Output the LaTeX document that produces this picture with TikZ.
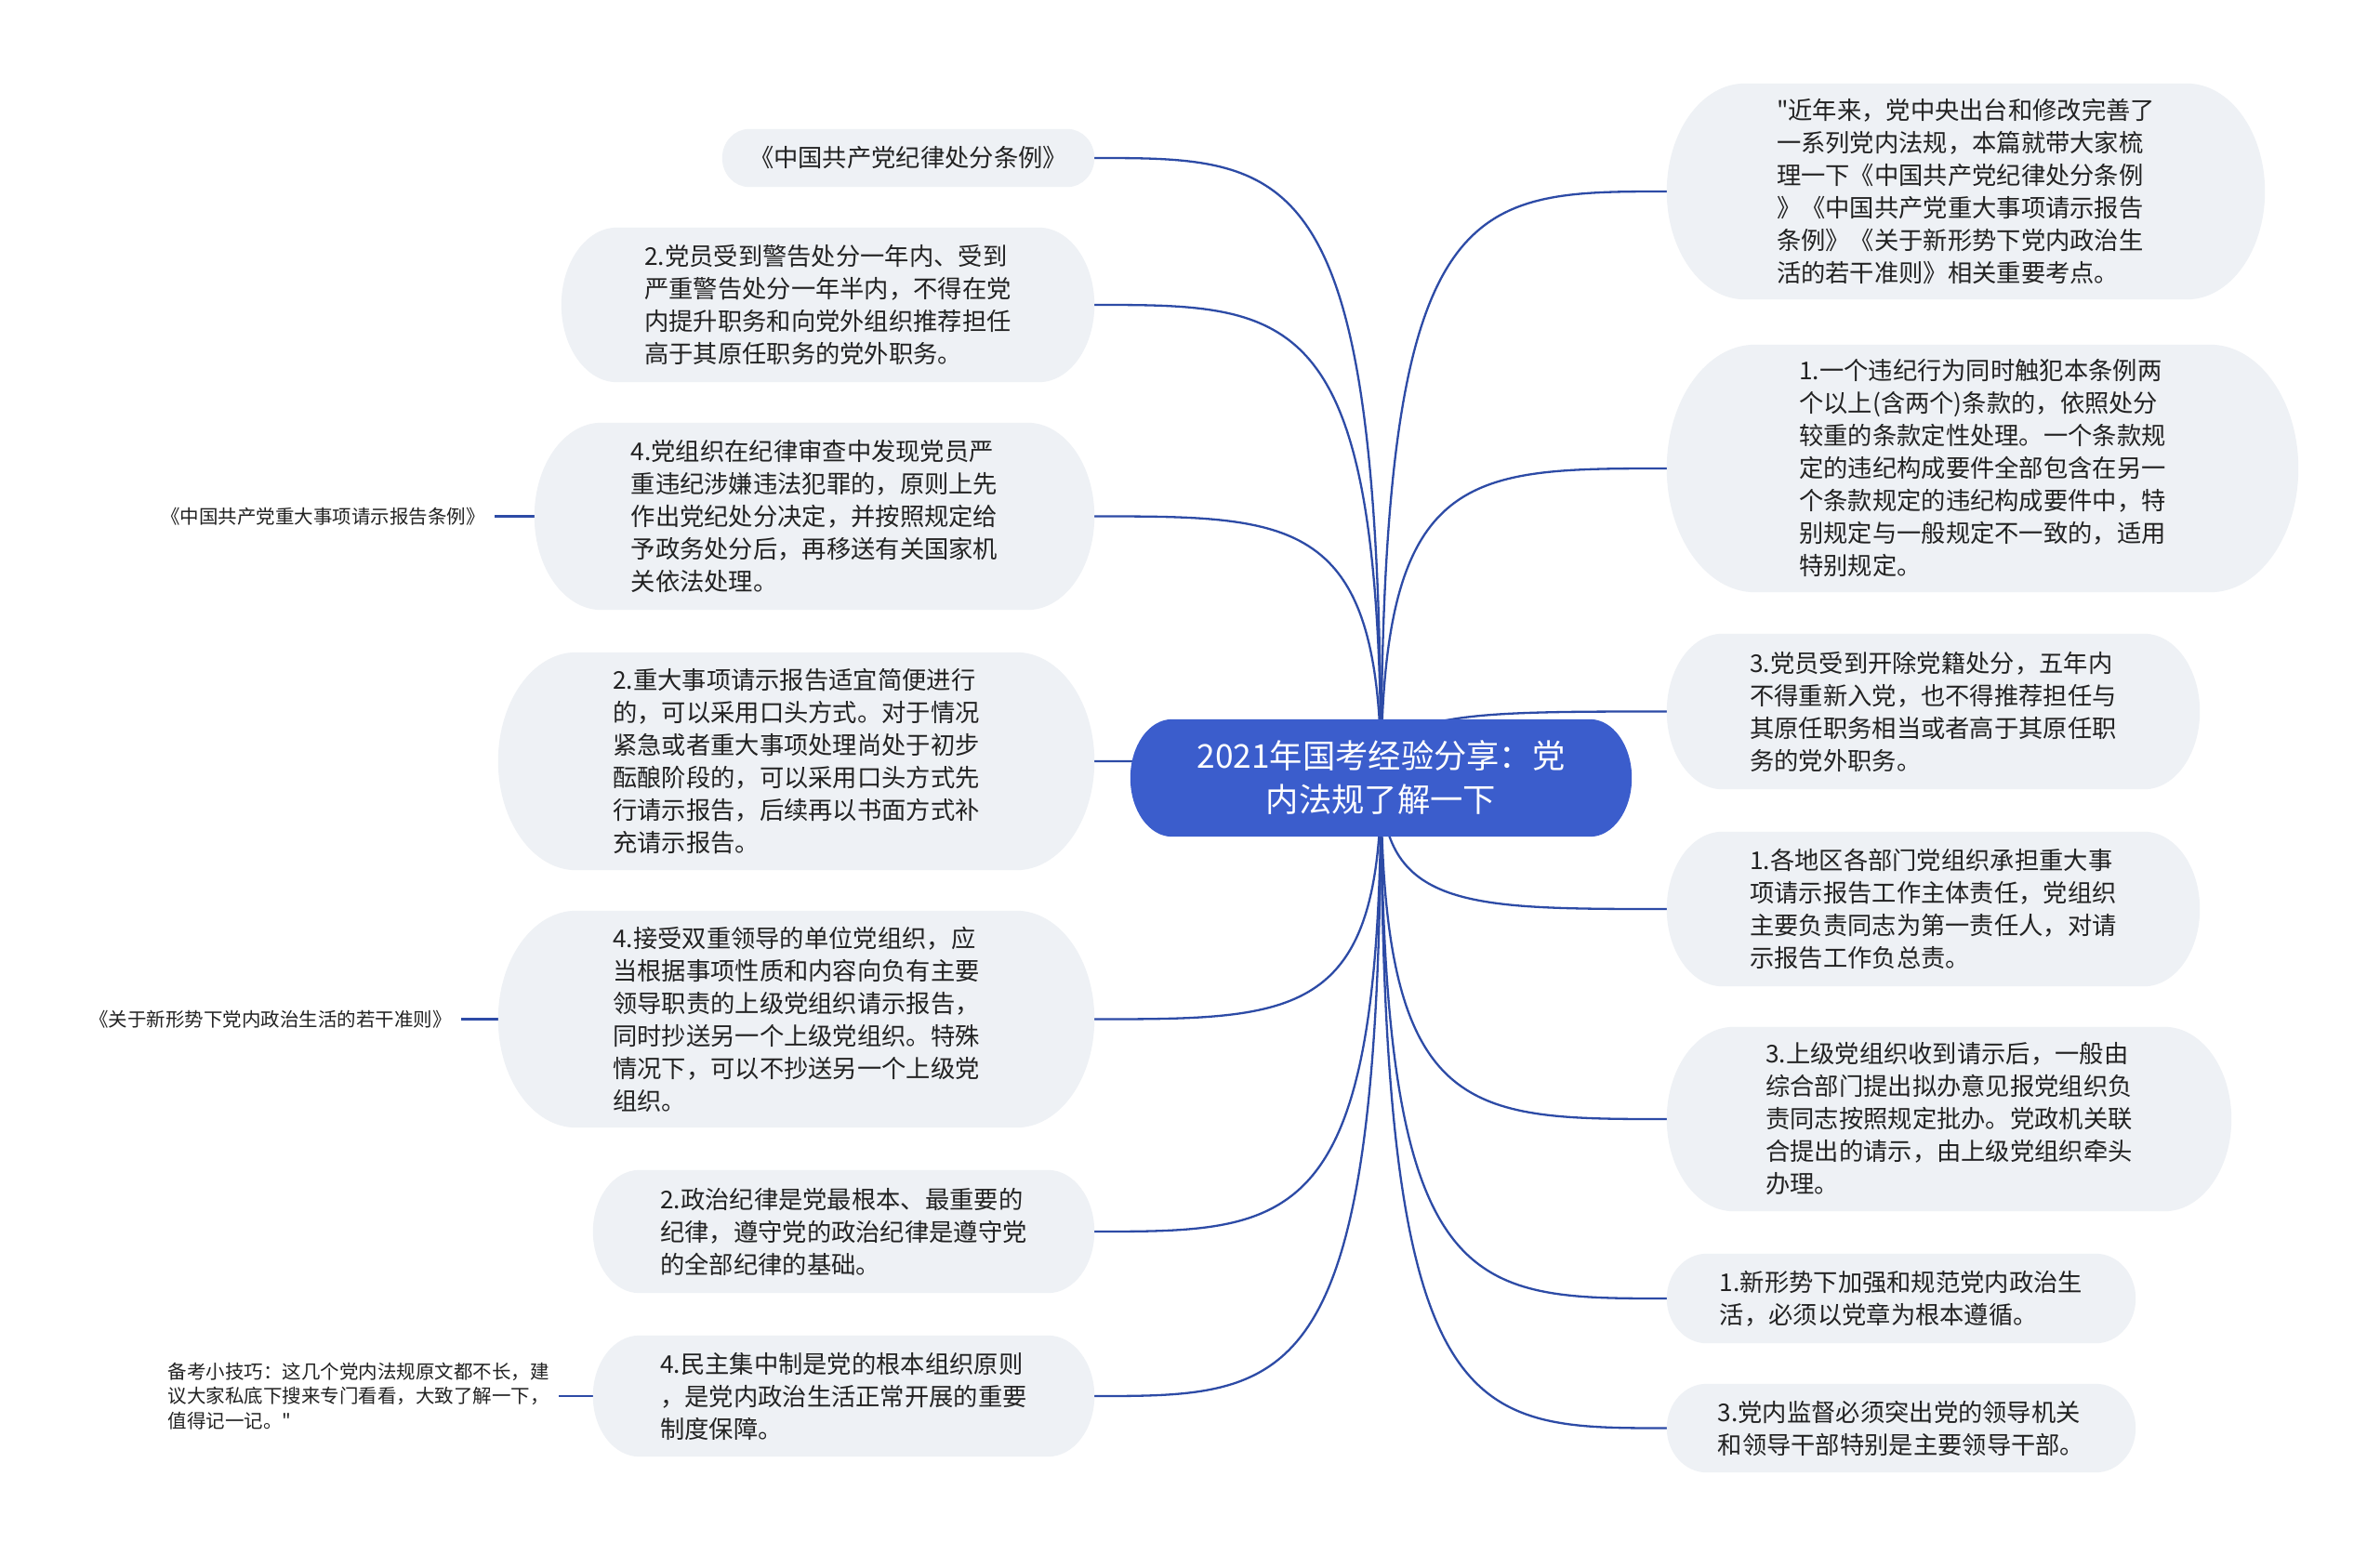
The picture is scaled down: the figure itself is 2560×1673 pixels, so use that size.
\documentclass[tikz,border=0pt]{standalone}
\usepackage{fontspec}
\newfontfamily\cjk{Noto Sans CJK SC}
\usetikzlibrary{calc,backgrounds}
\definecolor{bubble}{HTML}{EEF1F5}
\definecolor{mainblue}{HTML}{3B5DCC}
\definecolor{linkblue}{HTML}{2D4BA6}
\definecolor{txt}{HTML}{222222}
\tikzset{
  topic/.style={inner sep=0pt, align=left, text=txt, font=\cjk\fontsize{26.3}{35}\selectfont},
  central/.style={inner sep=0pt, align=center, text=white, font=\cjk\fontsize{35.3}{47}\selectfont},
  leaf/.style={inner xsep=10pt, inner ysep=0pt, align=left, anchor=east, text=txt, font=\cjk\fontsize{20.5}{26.5}\selectfont},
  link/.style={draw=linkblue, line width=2.3pt},
}
\newcommand\bubblefill[3]{%
  \path[fill=#3] let \p1=(#1.north west), \p2=(#1.south east) in
    (\x1+#2pt,\y1) -- (\x2-#2pt,\y1)
    arc[start angle=90, end angle=-90, x radius=#2pt, y radius={(\y1-\y2)/2}]
    -- (\x1+#2pt,\y2)
    arc[start angle=270, end angle=90, x radius=#2pt, y radius={(\y1-\y2)/2}]
    -- cycle;}
\newcommand\conn[2]{\draw[link] (#1.center) .. controls (#1.center |- #2) and ($(#1.center |- #2)!0.3!(#2)$) .. (#2);}
\begin{document}
\begin{tikzpicture}[x=1pt,y=1pt]
\useasboundingbox (0,0) rectangle (2560,-1673);
% central
\node[central, minimum width=539pt, minimum height=126pt] (C) at (1485.5,-837) {2021年国考经验分享：党\\内法规了解一下};
% left topics
\node[topic, minimum width=400pt, minimum height=62pt] (L1) at (977,-170) {《中国共产党纪律处分条例》};
\node[topic, minimum width=573pt, minimum height=166pt] (L2) at (890.5,-328) {2.党员受到警告处分一年内、受到\\严重警告处分一年半内，不得在党\\内提升职务和向党外组织推荐担任\\高于其原任职务的党外职务。};
\node[topic, minimum width=602pt, minimum height=201pt] (L3) at (876,-555.5) {4.党组织在纪律审查中发现党员严\\重违纪涉嫌违法犯罪的，原则上先\\作出党纪处分决定，并按照规定给\\予政务处分后，再移送有关国家机\\关依法处理。};
\node[topic, minimum width=641pt, minimum height=234pt] (L4) at (856.5,-819) {2.重大事项请示报告适宜简便进行\\的，可以采用口头方式。对于情况\\紧急或者重大事项处理尚处于初步\\酝酿阶段的，可以采用口头方式先\\行请示报告，后续再以书面方式补\\充请示报告。};
\node[topic, minimum width=641pt, minimum height=233pt] (L5) at (856.5,-1096.5) {4.接受双重领导的单位党组织，应\\当根据事项性质和内容向负有主要\\领导职责的上级党组织请示报告，\\同时抄送另一个上级党组织。特殊\\情况下，可以不抄送另一个上级党\\组织。};
\node[topic, minimum width=539pt, minimum height=132pt] (L6) at (907.5,-1325) {2.政治纪律是党最根本、最重要的\\纪律，遵守党的政治纪律是遵守党\\的全部纪律的基础。};
\node[topic, minimum width=539pt, minimum height=130pt] (L7) at (907.5,-1502) {4.民主集中制是党的根本组织原则\\，是党内政治生活正常开展的重要\\制度保障。};
% right topics
\node[topic, minimum width=643pt, minimum height=232pt] (R1) at (2114.5,-206) {"近年来，党中央出台和修改完善了\\一系列党内法规，本篇就带大家梳\\理一下《中国共产党纪律处分条例\\》《中国共产党重大事项请示报告\\条例》《关于新形势下党内政治生\\活的若干准则》相关重要考点。};
\node[topic, minimum width=679pt, minimum height=266pt] (R2) at (2132.5,-504) {1.一个违纪行为同时触犯本条例两\\个以上(含两个)条款的，依照处分\\较重的条款定性处理。一个条款规\\定的违纪构成要件全部包含在另一\\个条款规定的违纪构成要件中，特\\别规定与一般规定不一致的，适用\\特别规定。};
\node[topic, minimum width=573pt, minimum height=167pt] (R3) at (2079.5,-765.5) {3.党员受到开除党籍处分，五年内\\不得重新入党，也不得推荐担任与\\其原任职务相当或者高于其原任职\\务的党外职务。};
\node[topic, minimum width=573pt, minimum height=166pt] (R4) at (2079.5,-978) {1.各地区各部门党组织承担重大事\\项请示报告工作主体责任，党组织\\主要负责同志为第一责任人，对请\\示报告工作负总责。};
\node[topic, minimum width=607pt, minimum height=198pt] (R5) at (2096.5,-1204) {3.上级党组织收到请示后，一般由\\综合部门提出拟办意见报党组织负\\责同志按照规定批办。党政机关联\\合提出的请示，由上级党组织牵头\\办理。};
\node[topic, minimum width=504pt, minimum height=96pt] (R6) at (2045,-1397) {1.新形势下加强和规范党内政治生\\活，必须以党章为根本遵循。};
\node[topic, minimum width=504pt, minimum height=95pt] (R7) at (2045,-1536.5) {3.党内监督必须突出党的领导机关\\和领导干部特别是主要领导干部。};
% far-left leaves
\node[leaf] (LL1) at (532,-555.5) {《中国共产党重大事项请示报告条例》};
\node[leaf] (LL2) at (496,-1096.5) {《关于新形势下党内政治生活的若干准则》};
\node[leaf] (LL3) at (601,-1502) {备考小技巧：这几个党内法规原文都不长，建\\议大家私底下搜来专门看看，大致了解一下，\\值得记一记。"};
\begin{pgfonlayer}{background}
\fill[white] (0,0) rectangle (2560,-1673);
\conn{C}{L1.east}
\conn{C}{L2.east}
\conn{C}{L3.east}
\conn{C}{L4.east}
\conn{C}{L5.east}
\conn{C}{L6.east}
\conn{C}{L7.east}
\conn{C}{R1.west}
\conn{C}{R2.west}
\conn{C}{R3.west}
\conn{C}{R4.west}
\conn{C}{R5.west}
\conn{C}{R6.west}
\conn{C}{R7.west}
\draw[link] (L3.west) -- (LL1.east);
\draw[link] (L5.west) -- (LL2.east);
\draw[link] (L7.west) -- (LL3.east);
\bubblefill{C}{45}{mainblue}
\bubblefill{L1}{29}{bubble}
\bubblefill{L2}{60}{bubble}
\bubblefill{L3}{72}{bubble}
\bubblefill{L4}{84}{bubble}
\bubblefill{L5}{84}{bubble}
\bubblefill{L6}{50}{bubble}
\bubblefill{L7}{50}{bubble}
\bubblefill{R1}{84}{bubble}
\bubblefill{R2}{95}{bubble}
\bubblefill{R3}{60}{bubble}
\bubblefill{R4}{60}{bubble}
\bubblefill{R5}{72}{bubble}
\bubblefill{R6}{43}{bubble}
\bubblefill{R7}{43}{bubble}
\end{pgfonlayer}
\end{tikzpicture}
\end{document}
